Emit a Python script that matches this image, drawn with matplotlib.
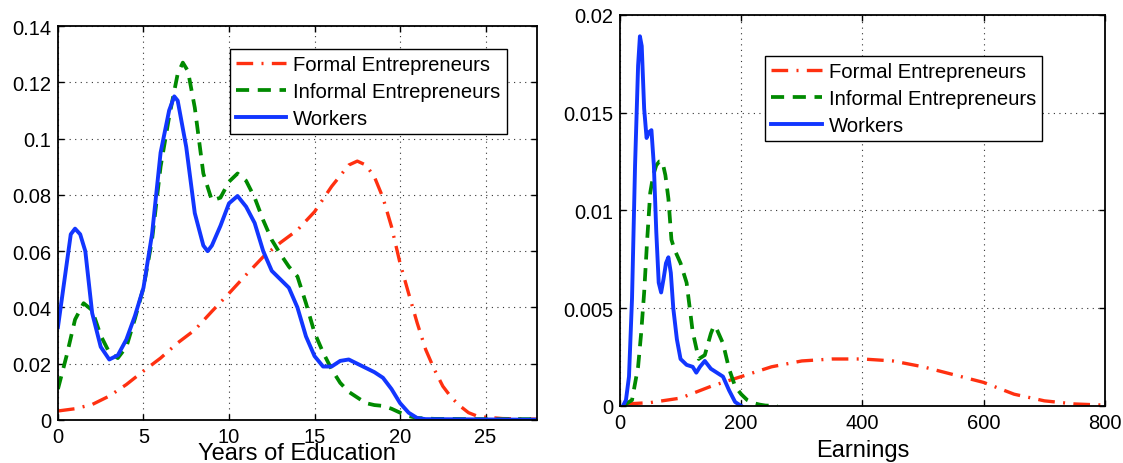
import matplotlib
matplotlib.use("Agg")
import matplotlib.pyplot as plt
from matplotlib.ticker import FuncFormatter, MultipleLocator

plt.rcParams['font.family'] = ['Liberation Sans', 'DejaVu Sans']

# --- years of education densities ---
edu_workers_x = [0, 0.5, 0.75, 1, 1.3, 1.6, 2, 2.5, 3, 3.5, 4, 4.5, 5, 5.5, 6, 6.5, 6.8, 7,
                 7.5, 8, 8.5, 8.75, 9, 9.5, 10, 10.5, 11, 11.5, 12, 12.5, 13, 13.5, 14, 14.5,
                 15, 15.5, 16, 16.5, 17, 17.5, 18, 18.5, 19, 19.5, 20, 20.5, 21, 21.5, 28]
edu_workers_y = [0.033, 0.055, 0.066, 0.068, 0.066, 0.060, 0.038, 0.026, 0.0215, 0.023,
                 0.0286, 0.037, 0.047, 0.066, 0.095, 0.110, 0.115, 0.1135, 0.097, 0.0735,
                 0.062, 0.060, 0.062, 0.069, 0.077, 0.0796, 0.0758, 0.070, 0.060, 0.053,
                 0.050, 0.047, 0.040, 0.0297, 0.0227, 0.019, 0.019, 0.021, 0.0215, 0.020,
                 0.0185, 0.017, 0.015, 0.011, 0.006, 0.0026, 0.0007, 0.0003, 0.0001]

edu_informal_x = [0, 0.5, 1, 1.5, 2, 2.5, 3, 3.5, 4, 4.5, 5, 5.5, 6, 6.5, 7, 7.3, 7.6, 8,
                  8.5, 9, 9.5, 10, 10.5, 11, 11.5, 12, 12.5, 13, 13.5, 14, 14.5, 15, 15.5,
                  16, 16.5, 17, 17.5, 18, 18.5, 19, 19.5, 20, 20.5, 21, 22, 25, 28]
edu_informal_y = [0.011, 0.0227, 0.0357, 0.0415, 0.039, 0.030, 0.024, 0.022, 0.026, 0.036,
                  0.047, 0.064, 0.090, 0.1077, 0.123, 0.127, 0.124, 0.111, 0.0876, 0.078,
                  0.079, 0.0847, 0.0876, 0.085, 0.079, 0.071, 0.064, 0.059, 0.0545, 0.051,
                  0.0415, 0.031, 0.024, 0.018, 0.0132, 0.010, 0.008, 0.006, 0.0053, 0.005,
                  0.004, 0.0026, 0.0014, 0.0007, 0.0004, 0.0003, 0.0003]

edu_formal_x = [0, 1, 2, 3, 4, 5, 6, 7, 8, 9, 10, 11, 12, 13, 14, 15, 16, 17, 17.5, 18,
                18.5, 19, 19.5, 20, 20.5, 21, 21.5, 22, 22.5, 23, 23.5, 24, 24.5, 25, 26,
                27, 28]
edu_formal_y = [0.0032, 0.004, 0.0055, 0.0085, 0.0126, 0.0174, 0.022, 0.0274, 0.032,
                0.0386, 0.045, 0.0516, 0.058, 0.063, 0.0675, 0.074, 0.083, 0.0906, 0.092,
                0.0906, 0.0864, 0.079, 0.0687, 0.0557, 0.045, 0.0345, 0.025, 0.018, 0.012,
                0.008, 0.005, 0.0026, 0.0014, 0.001, 0.0005, 0.0004, 0.0003]

# --- earnings densities ---
earn_workers_x = [5, 10, 15, 20, 25, 30, 33, 36, 40, 44, 48, 52, 56, 60, 64, 68, 72, 76,
                  80, 84, 88, 94, 100, 110, 120, 126, 132, 140, 150, 160, 170, 180, 190,
                  200]
earn_workers_y = [0.0, 0.0003, 0.0015, 0.0055, 0.0123, 0.0174, 0.0189, 0.0184, 0.0152,
                  0.0137, 0.014, 0.0141, 0.0123, 0.0089, 0.0063, 0.0058, 0.0065, 0.0073,
                  0.0076, 0.0068, 0.005, 0.0034, 0.0024, 0.0021, 0.002, 0.0017, 0.002,
                  0.0023, 0.0019, 0.0017, 0.0015, 0.0008, 0.0002, 0.0]

earn_informal_x = [5, 10, 20, 30, 35, 40, 45, 50, 55, 60, 65, 70, 75, 80, 85, 90, 100, 110,
                   120, 130, 140, 150, 155, 160, 170, 180, 190, 200, 210, 220, 230, 240,
                   260]
earn_informal_y = [0.0, 0.0001, 0.0003, 0.002, 0.0037, 0.0058, 0.0085, 0.0109, 0.0118,
                   0.0123, 0.0125, 0.0125, 0.0118, 0.0106, 0.0085, 0.008, 0.0073, 0.0063,
                   0.0038, 0.0024, 0.0026, 0.0037, 0.0041, 0.0039, 0.0032, 0.0019, 0.001,
                   0.0006, 0.0003, 0.00015, 0.00007, 0.00002, 0.0]

earn_formal_x = [10, 50, 100, 150, 200, 250, 300, 350, 400, 450, 500, 550, 600, 650, 700,
                 750, 800]
earn_formal_y = [0.0001, 0.00017, 0.0004, 0.001, 0.0015, 0.002, 0.0023, 0.0024, 0.0024,
                 0.0023, 0.002, 0.0016, 0.0012, 0.0006, 0.00026, 0.0001, 0.00004]

labels = ['Formal Entrepreneurs', 'Informal Entrepreneurs', 'Workers']
red, green, blue = '#ff3010', '#008a00', '#1236ff'


def style_axes(ax):
    ax.grid(True, linestyle=(0, (1, 4)), color='#333333', linewidth=0.8)
    ax.tick_params(direction='in', length=4, width=1, top=True, right=True,
                   labelsize=14.5, pad=5)
    for s in ax.spines.values():
        s.set_linewidth(1.3)
    ax.yaxis.set_major_formatter(FuncFormatter(lambda v, p: '%g' % round(v, 4)))


def draw(ax, series):
    (fx, fy), (ix, iy), (wx, wy) = series
    ax.plot(fx, fy, color=red, lw=2.4, linestyle=(0, (5, 2.5, 0.6, 2.5)), label=labels[0])
    ax.plot(ix, iy, color=green, lw=2.7, linestyle=(0, (3.5, 2.3)), label=labels[1])
    ax.plot(wx, wy, color=blue, lw=2.8, label=labels[2])


def add_legend(ax, anchor):
    leg = ax.legend(loc='upper right', bbox_to_anchor=anchor, fontsize=14.6,
                    handlelength=2.5, handletextpad=0.35, labelspacing=0.4,
                    borderpad=0.3, borderaxespad=0, fancybox=False, framealpha=1,
                    edgecolor='black')
    leg.get_frame().set_linewidth(1.0)


fig = plt.figure(figsize=(11.23, 4.64), dpi=100)

ax1 = fig.add_axes([0.0516, 0.0927, 0.4265, 0.849])
draw(ax1, [(edu_formal_x, edu_formal_y), (edu_informal_x, edu_informal_y),
           (edu_workers_x, edu_workers_y)])
ax1.set_xlim(0, 28)
ax1.set_ylim(0, 0.14)
ax1.xaxis.set_major_locator(MultipleLocator(5))
ax1.yaxis.set_major_locator(MultipleLocator(0.02))
style_axes(ax1)
ax1.set_xlabel('Years of Education', fontsize=17)
ax1.xaxis.set_label_coords(0.5, -0.055)
add_legend(ax1, (0.937, 0.942))

ax2 = fig.add_axes([0.552, 0.123, 0.432, 0.843])
draw(ax2, [(earn_formal_x, earn_formal_y), (earn_informal_x, earn_informal_y),
           (earn_workers_x, earn_workers_y)])
ax2.set_xlim(0, 800)
ax2.set_ylim(0, 0.02)
ax2.xaxis.set_major_locator(MultipleLocator(200))
ax2.yaxis.set_major_locator(MultipleLocator(0.005))
style_axes(ax2)
ax2.set_xlabel('Earnings', fontsize=17)
ax2.xaxis.set_label_coords(0.5, -0.085)
add_legend(ax2, (0.870, 0.895))

fig.savefig('out.png', dpi=100)
